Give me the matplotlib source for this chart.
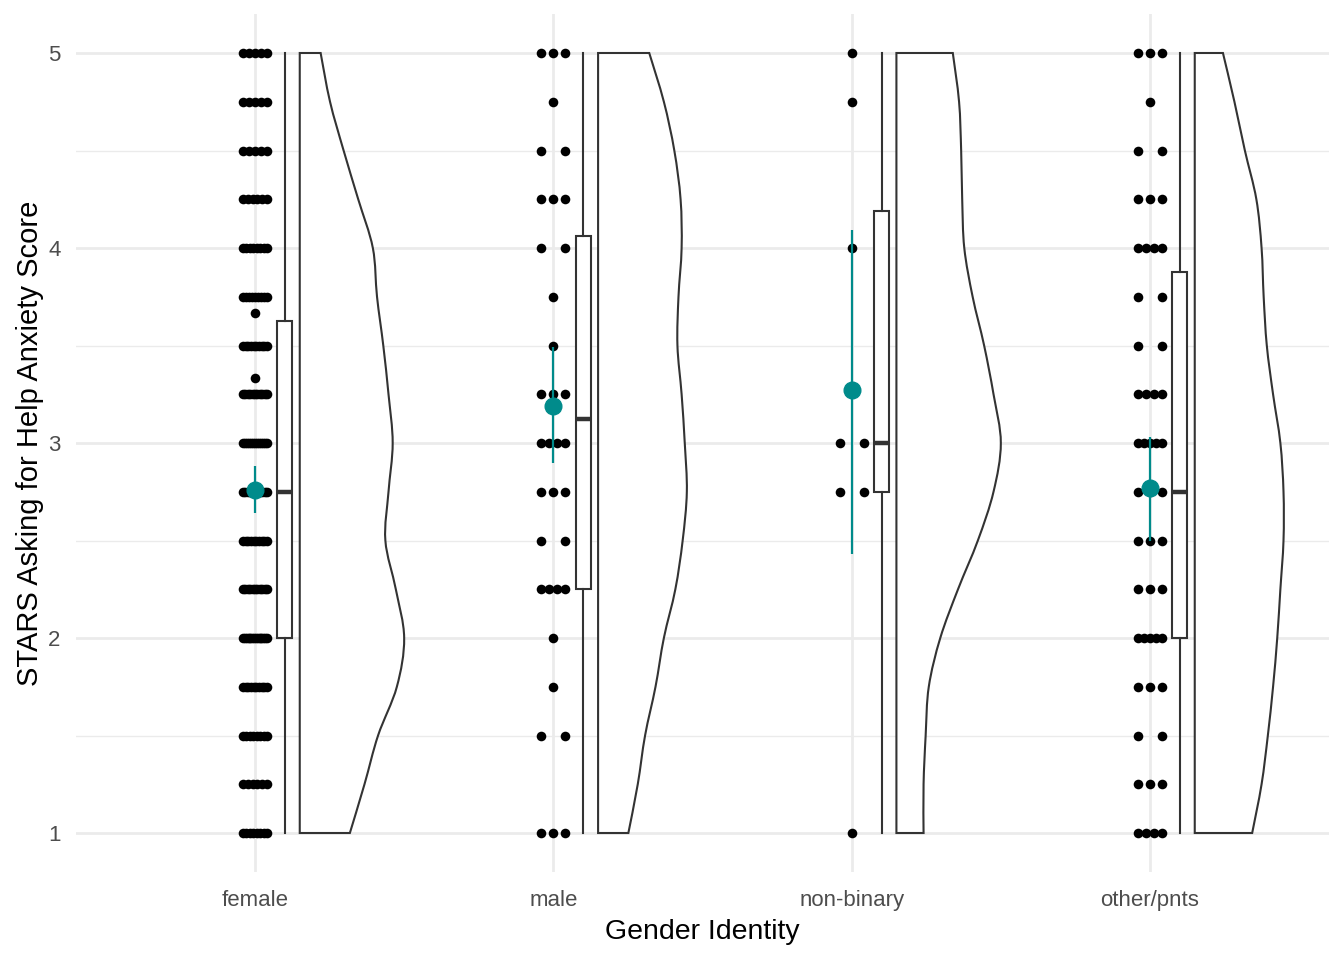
import numpy as np
import matplotlib.pyplot as plt
from matplotlib.path import Path
from matplotlib.patches import PathPatch

plt.rcParams['font.family'] = ['Liberation Sans', 'DejaVu Sans']

# Dados
groups = ['female', 'male', 'non-binary', 'other/pnts']
levels = [1, 1.25, 1.5, 1.75, 2, 2.25, 2.5, 2.75, 3, 3.25, 3.5, 3.75, 4, 4.25, 4.5, 4.75, 5]

# número de respostas em cada nível
female_n = [8, 6, 8, 10, 14, 11, 10, 11, 13, 11, 10, 9, 8, 6, 5, 5, 5]
male_n = [3, 0, 2, 1, 1, 4, 2, 3, 4, 3, 1, 1, 2, 3, 2, 1, 3]
nonbin_n = [1, 0, 0, 0, 0, 0, 0, 2, 2, 0, 0, 0, 1, 0, 0, 1, 1]
other_n = [4, 3, 2, 3, 5, 3, 3, 3, 5, 4, 2, 2, 4, 3, 2, 1, 3]
female_extra = [3.333, 3.667]

# média com IC (bootstrap) por grupo
mean_score = [2.76, 3.19, 3.27, 2.77]
ci_low = [2.64, 2.90, 2.43, 2.50]
ci_high = [2.88, 3.49, 4.09, 3.03]

# estatísticas do boxplot
q1 = [2.0, 2.25, 2.75, 2.0]
median = [2.75, 3.125, 3.0, 2.75]
q3 = [3.625, 4.0625, 4.1875, 3.875]
whisk_lo = [1, 1, 1, 1]
whisk_hi = [5, 5, 5, 5]

# densidade relativa (meio violino) em cada nível
dens_female = [0.48, 0.62, 0.75, 0.93, 1.00, 0.92, 0.82, 0.85, 0.89, 0.85, 0.80, 0.74, 0.70, 0.56, 0.42, 0.29, 0.20]
dens_male = [0.29, 0.38, 0.45, 0.55, 0.63, 0.74, 0.81, 0.85, 0.83, 0.80, 0.76, 0.77, 0.80, 0.79, 0.73, 0.63, 0.49]
dens_nonbin = [0.26, 0.26, 0.28, 0.31, 0.42, 0.59, 0.78, 0.93, 1.00, 0.93, 0.84, 0.73, 0.65, 0.63, 0.62, 0.60, 0.54]
dens_other = [0.55, 0.64, 0.70, 0.75, 0.79, 0.82, 0.85, 0.85, 0.82, 0.75, 0.69, 0.66, 0.64, 0.59, 0.48, 0.38, 0.27]

counts = [female_n, male_n, nonbin_n, other_n]
dens = [dens_female, dens_male, dens_nonbin, dens_other]

teal = '#008B8B'
line_col = '#333333'


def half_violin(ax, x0, ys, ws):
    # contorno suave (Catmull-Rom -> Bezier) passando pelos pontos lidos
    pts = np.column_stack([x0 + np.array(ws), ys])
    verts = [(x0, ys[0]), tuple(pts[0])]
    codes = [Path.MOVETO, Path.LINETO]
    n = len(pts)
    for k in range(n - 1):
        p0 = pts[max(k - 1, 0)]
        p1, p2 = pts[k], pts[k + 1]
        p3 = pts[min(k + 2, n - 1)]
        verts += [tuple(p1 + (p2 - p0) / 6), tuple(p2 - (p3 - p1) / 6), tuple(p2)]
        codes += [Path.CURVE4] * 3
    verts += [(x0, ys[-1]), (x0, ys[0])]
    codes += [Path.LINETO, Path.CLOSEPOLY]
    ax.add_patch(PathPatch(Path(verts, codes), facecolor='white',
                           edgecolor=line_col, linewidth=1.5, zorder=2))


fig = plt.figure(figsize=(13.44, 9.6), dpi=100)
ax = fig.add_axes([76 / 1344, 88 / 960, 1253 / 1344, 858 / 960])

for i in range(len(groups)):
    # pontos espalhados horizontalmente
    xs, ys = [], []
    for lev, n in zip(levels, counts[i]):
        if n == 0:
            continue
        offs = np.linspace(-0.04, 0.04, n) if n > 1 else [0.0]
        xs += [i + o for o in offs]
        ys += [lev] * n
    if i == 0:
        xs += [i] * len(female_extra)
        ys += female_extra
    ax.scatter(xs, ys, s=48, color='black', linewidths=0, zorder=3)

    # meio violino
    half_violin(ax, i + 0.15, levels, [d * 0.35 for d in dens[i]])

# boxplots
stats = [dict(med=median[i], q1=q1[i], q3=q3[i], whislo=whisk_lo[i],
              whishi=whisk_hi[i], fliers=[]) for i in range(len(groups))]
ax.bxp(stats, positions=[i + 0.1 for i in range(len(groups))], widths=0.05,
       showcaps=False, showfliers=False, patch_artist=True,
       boxprops=dict(facecolor='white', edgecolor=line_col, linewidth=1.5),
       whiskerprops=dict(color=line_col, linewidth=1.5),
       medianprops=dict(color=line_col, linewidth=3.2), manage_ticks=False)

# média e IC
mean_arr = np.array(mean_score)
ax.errorbar(range(len(groups)), mean_arr,
            yerr=[mean_arr - np.array(ci_low), np.array(ci_high) - mean_arr],
            fmt='o', color=teal, ms=12, elinewidth=1.6, capsize=0, zorder=4)

ax.set_xlim(-0.6, 3.6)
ax.set_ylim(0.8, 5.2)
ax.set_xticks(range(len(groups)))
ax.set_xticklabels(groups)
ax.set_yticks([1, 2, 3, 4, 5])
ax.set_yticks([1.5, 2.5, 3.5, 4.5], minor=True)
ax.grid(True, which='major', color='#EBEBEB', linewidth=2.0, zorder=0)
ax.grid(True, which='minor', axis='y', color='#EBEBEB', linewidth=1.0, zorder=0)
ax.set_axisbelow(True)
for s in ax.spines.values():
    s.set_visible(False)
ax.tick_params(which='both', length=0, labelsize=16, labelcolor='#4D4D4D')
ax.tick_params(axis='x', pad=13)
ax.tick_params(axis='y', pad=11)
ax.set_xlabel('Gender Identity', fontsize=20.5, labelpad=6)
ax.set_ylabel('STARS Asking for Help Anxiety Score', fontsize=21, labelpad=3)

fig.savefig('out.png', dpi=100)
